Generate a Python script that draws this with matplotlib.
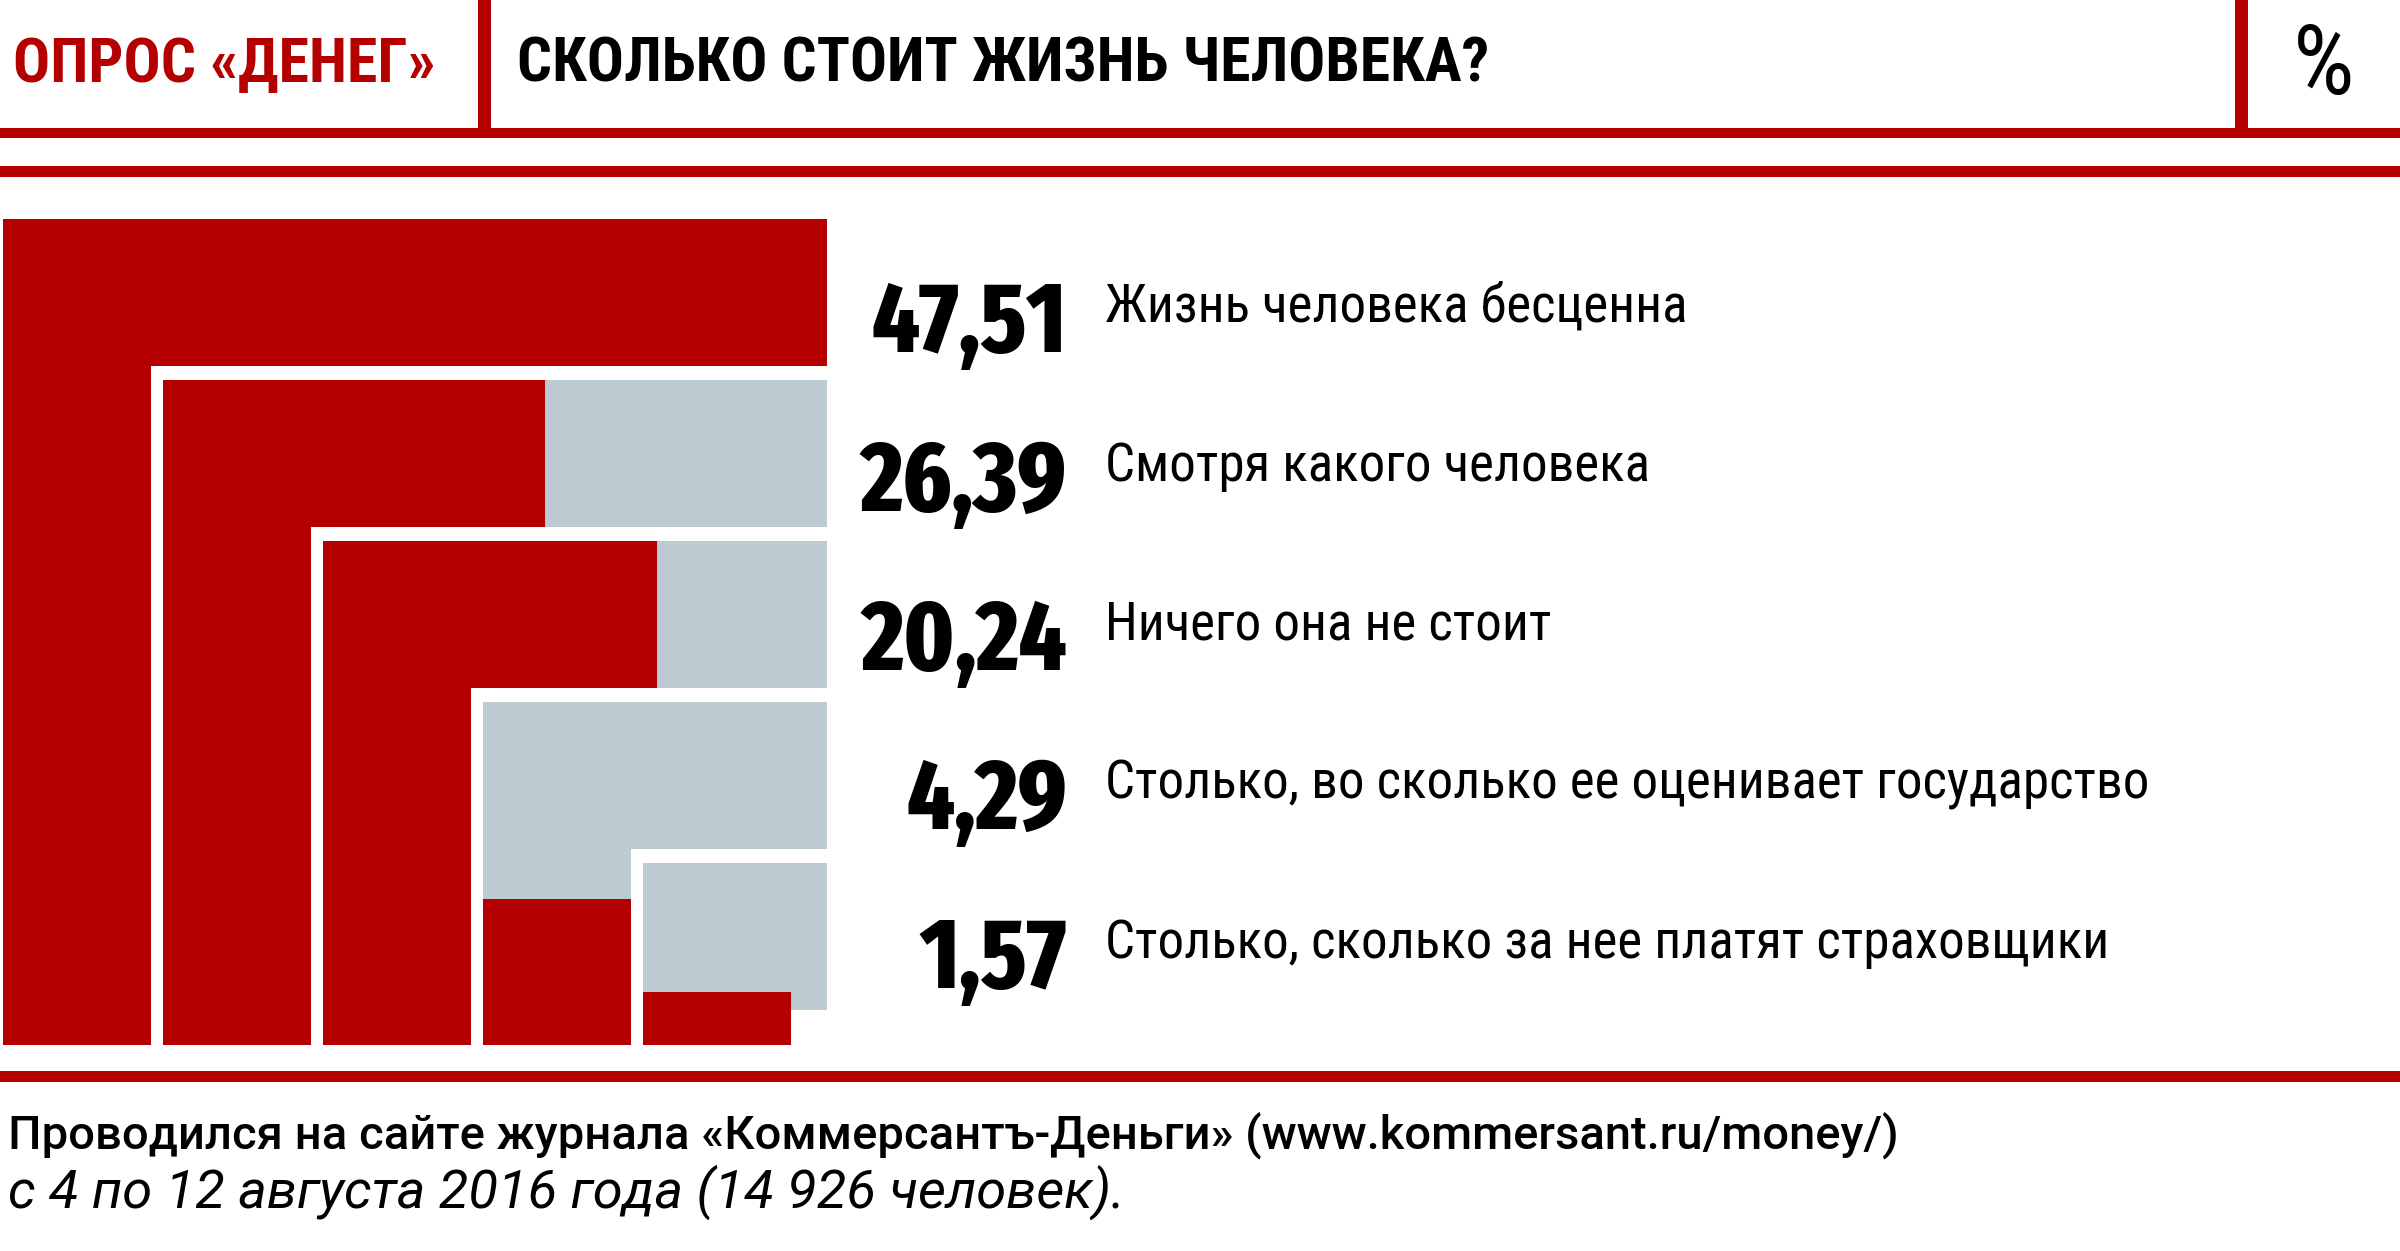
import matplotlib
matplotlib.use('Agg')
import matplotlib.pyplot as plt
from matplotlib.patches import Rectangle

# survey data
values = [47.51, 26.39, 20.24, 4.29, 1.57]
value_labels = ['47,51', '26,39', '20,24', '4,29', '1,57']
answers = ['Жизнь человека бесценна',
           'Смотря какого человека',
           'Ничего она не стоит',
           'Столько, во сколько ее оценивает государство',
           'Столько, сколько за нее платят страховщики']

RED = '#b40000'
GREY = '#bccad1'

fig = plt.figure(figsize=(24, 12.51), dpi=100)
ax = fig.add_axes([0, 0, 1, 1])
ax.set_xlim(0, 2400)
ax.set_ylim(1251, 0)
ax.axis('off')
renderer = fig.canvas.get_renderer()


def fit(t, width):
    # scale the font so the text spans the given width in pixels
    bb = t.get_window_extent(renderer)
    t.set_fontsize(t.get_fontsize() * width / bb.width)
    return t


# header rules
ax.axhspan(128, 138, color=RED, lw=0)
ax.axhspan(166, 177, color=RED, lw=0)
ax.add_patch(Rectangle((478, 0), 13, 133, color=RED, lw=0))
ax.add_patch(Rectangle((2235, 0), 13, 133, color=RED, lw=0))
ax.axhspan(1071, 1082, color=RED, lw=0)

cond = ['Roboto Condensed', 'DejaVu Sans']
nums = ['Fira Sans Extra Condensed', 'DejaVu Sans']
fit(ax.text(13, 82, 'ОПРОС «ДЕНЕГ»', color=RED, fontsize=47, fontweight='bold', family=cond), 423)
fit(ax.text(517, 82, 'СКОЛЬКО СТОИТ ЖИЗНЬ ЧЕЛОВЕКА?', color='black', fontsize=47,
            fontweight='bold', family=cond), 971)
ax.text(2324, 94, '%', ha='center', fontsize=70, family=cond)

# nested L shapes, red area proportional to the share
x0, y0, step_x, step_y = 3, 219, 160, 161
w, h = 148, 147
right, bottom = 827, 1045
k = 5035  # px^2 per percentage point
for i, v in enumerate(values):
    x = x0 + i * step_x
    y = y0 + i * step_y
    ax.add_patch(Rectangle((x, y), right - x, h, color=GREY, lw=0))
    ax.add_patch(Rectangle((x, y), w, bottom - y, color=GREY, lw=0))
    area = v * k
    col_h = min(area / w, bottom - y)
    ax.add_patch(Rectangle((x, bottom - col_h), w, col_h, color=RED, lw=0))
    rest = area - col_h * w
    if rest > 0:
        band_w = min(rest / h, right - x - w)
        ax.add_patch(Rectangle((x + w, y), band_w, h, color=RED, lw=0))

    base = 352 + i * 159
    t = ax.text(1067, base, value_labels[i], ha='right', va='baseline', fontsize=77,
                fontweight='heavy', family=nums)
    if i == 0:
        fit(t, 195)
        num_fs = t.get_fontsize()
    t.set_fontsize(num_fs)
    t = ax.text(1105, base - 30, answers[i], ha='left', va='baseline', fontsize=35, family=cond)
    if i == 0:
        fit(t, 582)
        lab_fs = t.get_fontsize()
    t.set_fontsize(lab_fs)

fit(ax.text(8, 1150, 'Проводился на сайте журнала «Коммерсантъ-Деньги» (www.kommersant.ru/money/)',
            fontsize=27, fontweight='medium', family=['Roboto', 'DejaVu Sans']), 1890)
fit(ax.text(8, 1208, 'с 4 по 12 августа 2016 года (14 926 человек).', fontsize=27, style='italic',
            family=['Roboto', 'DejaVu Sans']), 1114)

fig.savefig('out.png', dpi=100, facecolor='white')
